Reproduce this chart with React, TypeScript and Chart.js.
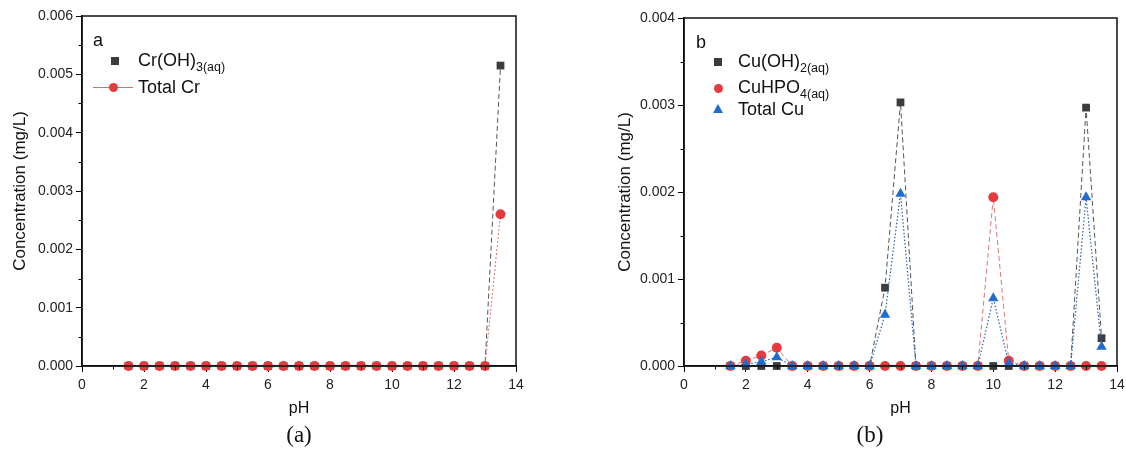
import React, { useEffect, useRef } from "react";
import Chart from "chart.js/auto";

// ---------- data ----------
const pH = [1.5, 2, 2.5, 3, 3.5, 4, 4.5, 5, 5.5, 6, 6.5, 7, 7.5, 8, 8.5, 9, 9.5, 10, 10.5, 11, 11.5, 12, 12.5, 13, 13.5];

// Panel (a)
const crOH3 = [0, 0, 0, 0, 0, 0, 0, 0, 0, 0, 0, 0, 0, 0, 0, 0, 0, 0, 0, 0, 0, 0, 0, 0, 0.00515];
const totalCr = [0, 0, 0, 0, 0, 0, 0, 0, 0, 0, 0, 0, 0, 0, 0, 0, 0, 0, 0, 0, 0, 0, 0, 0, 0.0026];

// Panel (b)
const cuOH2 = [0, 0, 0, 0, 0, 0, 0, 0, 0, 0, 0.0009, 0.00303, 0, 0, 0, 0, 0, 0, 0, 0, 0, 0, 0, 0.00297, 0.00032];
const cuHPO4 = [0, 0.00006, 0.00012, 0.00021, 0, 0, 0, 0, 0, 0, 0, 0, 0, 0, 0, 0, 0, 0.00194, 0.00006, 0, 0, 0, 0, 0, 0];
const totalCu = [0, 0.00002, 0.00005, 0.0001, 0, 0, 0, 0, 0, 0, 0.00059, 0.00198, 0, 0, 0, 0, 0, 0.00078, 0.00003, 0, 0, 0, 0, 0.00194, 0.00022];

const xTicks = [0, 2, 4, 6, 8, 10, 12, 14];
const yMaxA = 0.006;
const yMaxB = 0.004;

const FONT = "'Liberation Sans', Arial, sans-serif";
const GRAY = "#3c3c3c";
const RED = "#e53b3f";
const BLUE = "#1f6dd0";

const toXY = (ys: number[]) => ys.map((v, i) => ({ x: pH[i], y: v }));

const framePlugin = {
  id: "frameMinor",
  afterDraw(chart: any) {
    const { ctx, chartArea, scales } = chart;
    const x = scales.x;
    const y = scales.y;
    ctx.save();
    ctx.strokeStyle = "#000";
    ctx.lineWidth = 1;
    ctx.beginPath();
    for (let v = 1; v < 14; v += 2) {
      const px = Math.round(x.getPixelForValue(v)) + 0.5;
      ctx.moveTo(px, chartArea.bottom);
      ctx.lineTo(px, chartArea.bottom + 3.5);
    }
    for (let v = 0.0005; v < y.max; v += 0.001) {
      const py = Math.round(y.getPixelForValue(v)) + 0.5;
      ctx.moveTo(chartArea.left, py);
      ctx.lineTo(chartArea.left - 3.5, py);
    }
    ctx.stroke();
    ctx.lineWidth = 1.5;
    ctx.strokeStyle = "#111";
    ctx.strokeRect(chartArea.left, chartArea.top, chartArea.right - chartArea.left, chartArea.bottom - chartArea.top);
    ctx.restore();
  },
};

function makeOptions(yMax: number, padLeft: number, padRight: number, padTop: number, yWidth: number, titlePad: number) {
  return {
    responsive: false,
    maintainAspectRatio: false,
    animation: false as const,
    layout: { padding: { left: padLeft, right: padRight, top: padTop, bottom: 39 } },
    plugins: { legend: { display: false }, tooltip: { enabled: false } },
    scales: {
      x: {
        type: "linear" as const,
        min: 0,
        max: 14,
        afterFit: (s: any) => {
          s.height = 457 - 39 - 366;
          s.paddingLeft = 0;
          s.paddingRight = 0;
        },
        afterBuildTicks: (s: any) => { s.ticks = xTicks.map((v) => ({ value: v })); },
        ticks: { font: { family: FONT, size: 14 }, color: "#222", padding: 5, maxRotation: 0, autoSkip: false },
        grid: { drawOnChartArea: false, drawTicks: true, tickLength: 6, color: "#000", lineWidth: 1 },
        border: { display: true, color: "#000", width: 1.5 },
        title: { display: true, text: "pH", font: { family: FONT, size: 16 }, color: "#111", padding: { top: 0, bottom: 0 } },
      },
      y: {
        type: "linear" as const,
        min: 0,
        max: yMax,
        afterFit: (s: any) => {
          s.width = yWidth;
          s.paddingTop = 0;
          s.paddingBottom = 0;
        },
        ticks: {
          stepSize: 0.001,
          font: { family: FONT, size: 14 },
          color: "#222",
          padding: 3,
          callback: (v: any) => Number(v).toFixed(3),
        },
        grid: { drawOnChartArea: false, drawTicks: true, tickLength: 6, color: "#000", lineWidth: 1 },
        border: { display: true, color: "#000", width: 1.5 },
        title: { display: true, text: "Concentration (mg/L)", font: { family: FONT, size: 17 }, color: "#111", padding: { top: titlePad, bottom: 0 } },
      },
    },
  };
}

function ChartA() {
  const ref = useRef<HTMLCanvasElement | null>(null);
  useEffect(() => {
    if (!ref.current) return;
    const chart = new Chart(ref.current, {
      type: "line",
      data: {
        datasets: [
          {
            label: "Total Cr",
            data: toXY(totalCr),
            borderColor: "#e06a6a",
            borderWidth: 1,
            borderDash: [2, 2],
            pointStyle: "circle",
            pointRadius: 5,
            pointBackgroundColor: RED,
            pointBorderColor: RED,
            pointBorderWidth: 0,
            clip: false,
            order: 1,
          },
          {
            label: "Cr(OH)3(aq)",
            data: toXY(crOH3),
            borderColor: "#555",
            borderWidth: 1,
            borderDash: [5, 3],
            pointStyle: "rect",
            pointRadius: 5.5,
            pointBackgroundColor: GRAY,
            pointBorderColor: GRAY,
            pointBorderWidth: 0,
            clip: false,
            order: 2,
          },
        ],
      },
      options: makeOptions(yMaxA, 0, 44, 16, 82, 10) as any,
      plugins: [framePlugin],
    });
    return () => chart.destroy();
  }, []);
  return <canvas ref={ref} width={560} height={457} style={{ position: "absolute", left: 0, top: 0, width: 560, height: 457 }} />;
}

function ChartB() {
  const ref = useRef<HTMLCanvasElement | null>(null);
  useEffect(() => {
    if (!ref.current) return;
    const chart = new Chart(ref.current, {
      type: "line",
      data: {
        datasets: [
          {
            label: "Total Cu",
            data: toXY(totalCu),
            borderColor: "#2a5fae",
            borderWidth: 1.2,
            borderDash: [1.5, 2],
            pointStyle: "triangle",
            pointRadius: 6,
            pointBackgroundColor: BLUE,
            pointBorderColor: BLUE,
            pointBorderWidth: 0,
            clip: false,
            order: 1,
          },
          {
            label: "CuHPO4(aq)",
            data: toXY(cuHPO4),
            borderColor: "#d77a7a",
            borderWidth: 1,
            borderDash: [5, 3],
            pointStyle: "circle",
            pointRadius: 5,
            pointBackgroundColor: RED,
            pointBorderColor: RED,
            pointBorderWidth: 0,
            clip: false,
            order: 2,
          },
          {
            label: "Cu(OH)2(aq)",
            data: toXY(cuOH2),
            borderColor: "#555",
            borderWidth: 1,
            borderDash: [5, 3],
            pointStyle: "rect",
            pointRadius: 5.5,
            pointBackgroundColor: GRAY,
            pointBorderColor: GRAY,
            pointBorderWidth: 0,
            clip: false,
            order: 3,
          },
        ],
      },
      options: makeOptions(yMaxB, 42, 9, 18, 82, 13) as any,
      plugins: [framePlugin],
    });
    return () => chart.destroy();
  }, []);
  return <canvas ref={ref} width={566} height={457} style={{ position: "absolute", left: 560, top: 0, width: 566, height: 457 }} />;
}

const txt: React.CSSProperties = {
  position: "absolute",
  fontFamily: FONT,
  fontSize: 18,
  lineHeight: "20px",
  color: "#111",
  whiteSpace: "nowrap",
};
const sub: React.CSSProperties = { fontSize: 12.5, verticalAlign: "-5px" };

function Square({ cx, cy }: { cx: number; cy: number }) {
  return <div style={{ position: "absolute", left: cx - 4, top: cy - 4, width: 8, height: 8, background: GRAY }} />;
}
function Circle({ cx, cy }: { cx: number; cy: number }) {
  return <div style={{ position: "absolute", left: cx - 4.5, top: cy - 4.5, width: 9, height: 9, borderRadius: "50%", background: RED }} />;
}
function Triangle({ cx, cy }: { cx: number; cy: number }) {
  return (
    <div
      style={{
        position: "absolute",
        left: cx - 5,
        top: cy - 5,
        width: 0,
        height: 0,
        borderLeft: "5px solid transparent",
        borderRight: "5px solid transparent",
        borderBottom: "9px solid " + BLUE,
      }}
    />
  );
}

const caption: React.CSSProperties = {
  position: "absolute",
  width: 100,
  top: 421,
  textAlign: "center",
  fontFamily: "'Liberation Serif', 'DejaVu Serif', serif",
  fontSize: 23,
  lineHeight: "28px",
  color: "#111",
};

export default function App() {
  return (
    <div style={{ position: "absolute", left: 0, top: 0, width: 1126, height: 457, background: "#fff", overflow: "hidden" }}>
      <ChartA />
      <ChartB />
      {/* Legend (a) */}
      <div style={{ ...txt, left: 93, top: 30 }}>a</div>
      <Square cx={115} cy={61} />
      <div style={{ ...txt, left: 138, top: 50 }}>
        Cr(OH)<span style={sub}>3(aq)</span>
      </div>
      <div style={{ position: "absolute", left: 93, top: 86.5, width: 40, height: 1, background: "#e06a6a" }} />
      <Circle cx={113} cy={87} />
      <div style={{ ...txt, left: 138, top: 77 }}>Total Cr</div>
      {/* Legend (b) */}
      <div style={{ ...txt, left: 696, top: 32 }}>b</div>
      <Square cx={718} cy={62} />
      <div style={{ ...txt, left: 738, top: 51 }}>
        Cu(OH)<span style={sub}>2(aq)</span>
      </div>
      <Circle cx={718} cy={88} />
      <div style={{ ...txt, left: 738, top: 77 }}>
        CuHPO<span style={sub}>4(aq)</span>
      </div>
      <Triangle cx={718} cy={109} />
      <div style={{ ...txt, left: 738, top: 99 }}>Total Cu</div>
      {/* Captions */}
      <div style={{ ...caption, left: 249 }}>(a)</div>
      <div style={{ ...caption, left: 820 }}>(b)</div>
    </div>
  );
}
